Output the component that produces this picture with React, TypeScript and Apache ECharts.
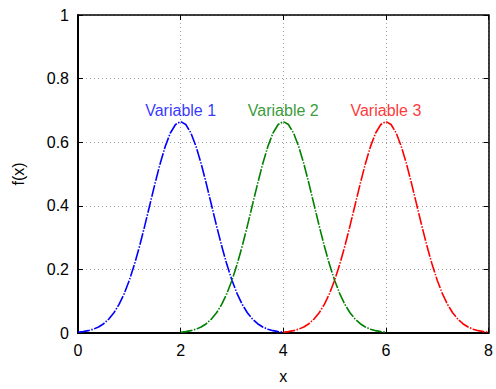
import React, { useEffect, useRef } from "react";
import * as echarts from "echarts";

const seriesNames = ["Variable 1", "Variable 2", "Variable 3"];
const seriesColors = ["#0000ff", "#008000", "#ff0000"];
const peakX = [2, 4, 6];
const peakY = [0.6649, 0.6649, 0.6649];

const x1 = [0, 0.1, 0.2, 0.3, 0.4, 0.5, 0.6, 0.7, 0.8, 0.9, 1.0, 1.1, 1.2, 1.3, 1.4, 1.5, 1.6, 1.7, 1.8, 1.9, 2.0, 2.1, 2.2, 2.3, 2.4, 2.5, 2.6, 2.7, 2.8, 2.9, 3.0, 3.1, 3.2, 3.3, 3.4, 3.5, 3.6, 3.7, 3.8, 3.9, 4.0];
const y1 = [0.0026, 0.0044, 0.0074, 0.012, 0.019, 0.0292, 0.0437, 0.0636, 0.09, 0.1239, 0.1658, 0.2159, 0.2733, 0.3367, 0.4033, 0.4699, 0.5324, 0.5868, 0.629, 0.6557, 0.6649, 0.6557, 0.629, 0.5868, 0.5324, 0.4699, 0.4033, 0.3367, 0.2733, 0.2159, 0.1658, 0.1239, 0.09, 0.0636, 0.0437, 0.0292, 0.019, 0.012, 0.0074, 0.0044, 0.0026];
const x2 = [2.0, 2.1, 2.2, 2.3, 2.4, 2.5, 2.6, 2.7, 2.8, 2.9, 3.0, 3.1, 3.2, 3.3, 3.4, 3.5, 3.6, 3.7, 3.8, 3.9, 4.0, 4.1, 4.2, 4.3, 4.4, 4.5, 4.6, 4.7, 4.8, 4.9, 5.0, 5.1, 5.2, 5.3, 5.4, 5.5, 5.6, 5.7, 5.8, 5.9, 6.0];
const y2 = [0.0026, 0.0044, 0.0074, 0.012, 0.019, 0.0292, 0.0437, 0.0636, 0.09, 0.1239, 0.1658, 0.2159, 0.2733, 0.3367, 0.4033, 0.4699, 0.5324, 0.5868, 0.629, 0.6557, 0.6649, 0.6557, 0.629, 0.5868, 0.5324, 0.4699, 0.4033, 0.3367, 0.2733, 0.2159, 0.1658, 0.1239, 0.09, 0.0636, 0.0437, 0.0292, 0.019, 0.012, 0.0074, 0.0044, 0.0026];
const x3 = [4.0, 4.1, 4.2, 4.3, 4.4, 4.5, 4.6, 4.7, 4.8, 4.9, 5.0, 5.1, 5.2, 5.3, 5.4, 5.5, 5.6, 5.7, 5.8, 5.9, 6.0, 6.1, 6.2, 6.3, 6.4, 6.5, 6.6, 6.7, 6.8, 6.9, 7.0, 7.1, 7.2, 7.3, 7.4, 7.5, 7.6, 7.7, 7.8, 7.9, 8.0];
const y3 = [0.0026, 0.0044, 0.0074, 0.012, 0.019, 0.0292, 0.0437, 0.0636, 0.09, 0.1239, 0.1658, 0.2159, 0.2733, 0.3367, 0.4033, 0.4699, 0.5324, 0.5868, 0.629, 0.6557, 0.6649, 0.6557, 0.629, 0.5868, 0.5324, 0.4699, 0.4033, 0.3367, 0.2733, 0.2159, 0.1658, 0.1239, 0.09, 0.0636, 0.0437, 0.0292, 0.019, 0.012, 0.0074, 0.0044, 0.0026];

const xsAll = [x1, x2, x3];
const ysAll = [y1, y2, y3];

const FONT = "Liberation Sans, Arial, Helvetica, sans-serif";

export default function App() {
  const ref = useRef<HTMLDivElement>(null);
  useEffect(() => {
    if (!ref.current) return;
    const chart = echarts.init(ref.current, null, { renderer: "svg" });
    const lineSeries = xsAll.map((xs, i) => ({
      type: "line",
      name: seriesNames[i],
      xAxisIndex: 0,
      yAxisIndex: 0,
      data: xs.map((x, j) => [x, ysAll[i][j]]),
      showSymbol: false,
      symbol: "none",
      lineStyle: { color: seriesColors[i], width: 1.6, type: [12, 1.5, 1.5, 1.5] },
      z: 3,
    }));
    const labelSeries = seriesNames.map((name, i) => ({
      type: "scatter",
      xAxisIndex: 0,
      yAxisIndex: 0,
      data: [[peakX[i], peakY[i]]],
      symbolSize: 1,
      itemStyle: { color: "rgba(0,0,0,0)" },
      label: {
        show: true,
        position: "top",
        distance: 3,
        formatter: name,
        color: seriesColors[i],
        fontSize: 16,
        fontFamily: FONT,
      },
      silent: true,
      z: 4,
    }));
    chart.setOption({
      animation: false,
      grid: { left: 78, right: 4, top: 15, bottom: 52, containLabel: false },
      xAxis: [
        {
          type: "value",
          min: 0,
          max: 8,
          interval: 2,
          name: "x",
          nameLocation: "middle",
          nameGap: 35,
          nameTextStyle: { color: "#000", fontSize: 16, fontFamily: FONT },
          axisLine: { show: true, onZero: false, lineStyle: { color: "#000", width: 2 } },
          axisTick: { show: true, inside: true, length: 5, lineStyle: { color: "#000" } },
          axisLabel: { color: "#000", fontSize: 16, fontFamily: FONT, margin: 9 },
          splitLine: { show: true, lineStyle: { color: "#a0a0a0", type: [1, 3], width: 1 } },
        },
        {
          type: "value",
          position: "top",
          min: 0,
          max: 8,
          interval: 2,
          axisLine: { show: true, onZero: false, lineStyle: { color: "#000", width: 1.5 } },
          axisTick: { show: true, inside: true, length: 5, lineStyle: { color: "#000" } },
          axisLabel: { show: false },
          splitLine: { show: false },
        },
      ],
      yAxis: [
        {
          type: "value",
          min: 0,
          max: 1,
          interval: 0.2,
          name: "f(x)",
          nameLocation: "middle",
          nameGap: 52,
          nameRotate: 90,
          nameTextStyle: { color: "#000", fontSize: 16, fontFamily: FONT },
          axisLine: { show: true, onZero: false, lineStyle: { color: "#000", width: 2 } },
          axisTick: { show: true, inside: true, length: 5, lineStyle: { color: "#000" } },
          axisLabel: { color: "#000", fontSize: 16, fontFamily: FONT, margin: 9 },
          splitLine: { show: true, lineStyle: { color: "#a0a0a0", type: [1, 3], width: 1 } },
        },
        {
          type: "value",
          position: "right",
          min: 0,
          max: 1,
          interval: 0.2,
          axisLine: { show: true, onZero: false, lineStyle: { color: "#000", width: 1.5 } },
          axisTick: { show: true, inside: true, length: 5, lineStyle: { color: "#000" } },
          axisLabel: { show: false },
          splitLine: { show: false },
        },
      ],
      series: [...lineSeries, ...labelSeries],
    });
    return () => chart.dispose();
  }, []);
  return <div ref={ref} style={{ width: 496, height: 389, position: "absolute", left: 0, top: 0 }} />;
}
